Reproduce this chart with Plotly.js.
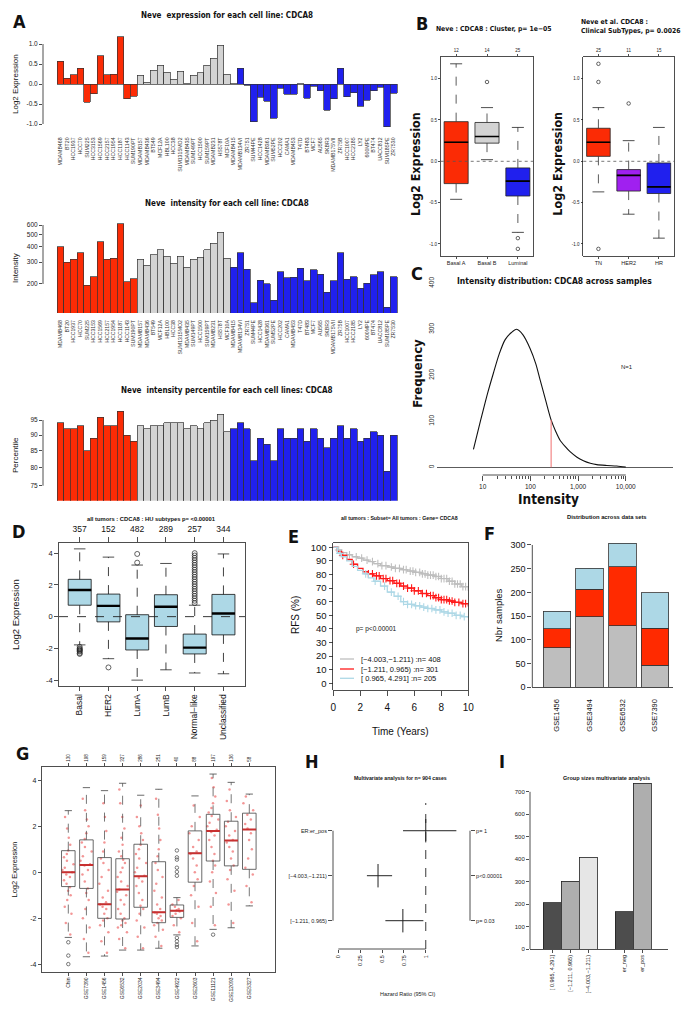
<!DOCTYPE html>
<html><head><meta charset="utf-8">
<script src="https://cdn.plot.ly/plotly-3.0.1.min.js"></script>
<style>html,body{margin:0;padding:0;background:#fff}#chart{width:692px;height:1019px}</style>
</head><body><div id="chart"></div>
<script>
// ================= DATA =================
// Panel A
const basalA = ['MDAMB468','BT20','HCC1937','HCC70','SUM225','HCC3153','HCC1569','HCC2157','HCC1954','HCC1187','HCC1143','SUM190PT'];
const basalB = ['MDAMB157','MDAMB436','BT549','MCF12A','HBL100','HCC38','SUM1315MO2','MDAMB435','SUM149PT','HCC1500','SUM159PT','MDAMB231','HS578T','MCF10A'];
const luminal = ['MDAMB415','MDAMB134VI','ZR751','SUM44PE','HCC1428','MDAMB361','SUM52PE','HCC202','CAMA1','MDAMB453','T47D','BT483','MCF7','AU565','SKBR3','MDAMB175VII','ZR75B','HCC1007','HCC2185','LY2','600MPE','BT474','UACC812','SUM185PE','ZR7530'];
const exprValues = [0.57,0.15,0.23,0.40,-0.46,-0.24,0.71,0.23,0.25,1.18,-0.37,-0.30,
  0.22,0.05,0.35,0.47,0.30,0.12,0.32,0.01,0.22,0.28,0.47,0.65,0.97,0.25,
  0.01,0.40,-0.03,-0.94,-0.33,-0.43,-0.86,-0.11,-0.26,-0.25,0.005,-0.35,-0.06,-0.17,-0.65,-0.37,0.40,-0.32,-0.22,-0.55,-0.40,-0.17,-0.08,-1.07,-0.23];
const intensityValues = [400,300,316,358,195,229,440,316,322,614,209,220,
  316,283,345,377,335,294,336,273,316,329,377,427,526,322,
  273,358,263,141,215,200,148,250,225,227,268,213,261,240,172,212,358,218,229,185,203,237,250,130,229];
const percentileValues = [94,92,92,93,85,89,96,93,93,98,90,88,
  93,92,93,93,94,94,94,92,93,92,94,95,97,91,
  92,94,92,82,89,87,82,92,89,89,92,88,92,89,86,89,93,89,92,88,89,91,90,79,90];

// Panel B
const clusterLabels = ['Basal A','Basal B','Luminal'];
const clusterCounts = ['12','14','25'];
const clusterQ1 = [-0.27,0.22,-0.42];
const clusterMed = [0.23,0.30,-0.24];
const clusterQ3 = [0.48,0.47,-0.08];
const clusterLo = [-0.46,0.02,-0.86];
const clusterHi = [1.18,0.65,0.41];
const clusterOut = [[],[0.96],[-0.93,-1.06]];
const clinLabels = ['TN','HER2','HR'];
const clinCounts = ['25','11','15'];
const clinQ1 = [0.06,-0.36,-0.39];
const clinMed = [0.23,-0.17,-0.31];
const clinQ3 = [0.40,-0.10,-0.02];
const clinLo = [-0.37,-0.64,-0.93];
const clinHi = [0.65,0.25,0.41];
const clinOut = [[1.18,0.96,-1.06],[0.70],[]];

// Panel C
const densIntensity = [6.4,8,10.3,13,16.7,22,29.4,40,51.6,70,98,130,160,210,272,340,419,540,679,950,1294,1800,2466,4000,6474,10000];
const densFreq = [39,80,125,165,204,245,277,293,300,288,259,225,190,145,103,78,59,45,34,22,14.5,9,5.8,4,2.9,0.7];
const sampleIntensity = 272;

// Panel D
const huLabels = ['Basal','HER2','LumA','LumB','Normal\u2212like','Unclassified'];
const huCounts = ['357','152','482','289','257','344'];
const huQ1 = [0.72,-0.33,-2.10,-0.62,-2.35,-1.15];
const huMed = [1.68,0.68,-1.38,0.62,-1.95,0.20];
const huQ3 = [2.35,1.42,0.12,1.38,-1.10,1.40];
const huLo = [-1.78,-2.65,-4.00,-3.35,-3.55,-3.60];
const huHi = [4.27,3.75,3.25,3.35,0.72,3.95];
const huOut = [[-1.9,-2.0,-2.05,-2.1,-2.15,-2.2,-2.3,-2.35],[-3.2],[3.4,3.95],[],
  [0.85,1.0,1.15,1.3,1.45,1.6,1.75,1.9,2.05,2.2,2.35,2.5,2.65,2.8,2.95,3.1,3.25,3.4,3.55,3.7,3.85,4.0],[]];

// Panel E (Kaplan-Meier)
const kmTimes = [0,0.3,0.6,1.0,1.4,1.8,2.2,2.6,3.0,3.5,4.0,4.5,5.0,5.5,6.0,6.5,7.0,7.5,8.0,8.5,9.0,9.5,10];
const kmLow  = [100,98,96,94.5,93,92,90.5,89.5,88,86.5,85.5,84.5,83.5,82.5,81.5,80.5,79.5,78.5,77,75,73,71,68];
const kmMid  = [100,97,94,91,87.5,84.5,82,80.5,79,77,75.5,73.5,71.5,70,68,66,64.5,63,61.5,60.5,59.5,58.5,56.5];
const kmHigh = [100,95.5,93,90,86,83,80.5,77.5,75,71.5,67,64,60,58,57,56,55,54,52.5,51.5,50,49,48];
const censLow  = [0.4,1.2,1.7,2.1,2.5,2.9,3.3,3.6,3.9,4.3,4.6,4.9,5.2,5.4,5.7,5.9,6.1,6.4,6.6,6.8,7.0,7.2,7.4,7.6,7.8,8.0,8.2,8.4,8.6,8.8,9.0,9.2,9.4,9.6,9.8];
const censMid  = [0.7,1.5,2.6,2.9,3.2,3.4,3.7,3.9,4.2,4.4,4.7,4.9,5.2,5.5,5.8,6.0,6.3,6.6,6.9,7.2,7.4,7.6,7.8,8.0,8.2,8.4,8.6,8.8,9.0,9.3,9.6,9.8];
const censHigh = [0.5,2.4,3.1,3.8,4.3,4.8,5.2,5.5,5.8,6.1,6.4,6.7,7.0,7.3,7.6,7.9,8.2,8.5,8.8,9.1,9.4,9.7];
const kmLegend = ['[\u22124.003,\u22121.211) :n= 408','[\u22121.211, 0.965) :n= 301','[ 0.965, 4.291] :n= 205'];

// Panel F
const fDatasets = ['GSE1456','GSE3494','GSE6532','GSE7390'];
const fLow = [83,149,130,46];
const fMid = [40,58,124,79];
const fHigh = [37,44,50,74];

// Panel G
const gLabels = ['Chin','GSE7390','GSE1456','GSE6532','GSE2034','GSE3494','GSE4922','GSE2603','GSE11121','GSE12093','GSE5327'];
const gCounts = ['130','198','159','327','286','251','40','88','197','136','58'];
const gQ1 = [-0.62,-0.70,-2.00,-2.03,-1.52,-2.19,-1.96,-0.43,0.49,0.28,0.13];
const gMed = [0.00,0.32,-1.39,-0.75,-0.17,-1.74,-1.67,0.83,1.80,1.38,1.86];
const gQ3 = [0.94,1.41,0.64,0.59,1.22,0.46,-1.42,1.80,2.52,2.22,2.57];
const gLo = [-2.83,-3.67,-3.64,-3.38,-3.38,-3.30,-2.72,-3.20,-2.48,-2.41,-1.46];
const gHi = [2.68,3.68,3.55,3.87,3.35,3.61,-1.10,3.32,4.27,3.91,3.40];
const gOut = [[-3.04,-3.62,-3.99],[],[],[],[],[],[0.95,0.65,0.55,0.2,0.02,-0.15,-2.85,-3.0,-3.15,-3.25],[],[-2.71],[],[]];
const gPoints = [
  [-2.7,-2.2,-1.8,-1.5,-1.2,-1.0,-0.8,-0.65,-0.5,-0.35,-0.2,-0.1,0.0,0.1,0.2,0.35,0.5,0.65,0.8,0.95,1.2,1.5,1.9,2.4],
  [-3.5,-2.9,-2.4,-2.0,-1.6,-1.2,-0.9,-0.7,-0.4,-0.1,0.1,0.3,0.35,0.5,0.7,0.9,1.1,1.3,1.45,1.7,2.0,2.3,2.7,3.2],
  [-3.5,-3.0,-2.6,-2.3,-2.1,-2.0,-1.8,-1.6,-1.5,-1.4,-1.3,-1.1,-0.8,-0.5,-0.2,0.1,0.4,0.6,0.9,1.3,1.8,2.4,3.0],
  [-3.3,-2.9,-2.6,-2.4,-2.3,-2.2,-2.1,-2.0,-1.8,-1.6,-1.4,-1.2,-1.0,-0.85,-0.75,-0.6,-0.4,-0.2,0.0,0.2,0.4,0.55,0.7,0.9,1.2,1.5,1.9,2.4,3.0,3.6],
  [-3.3,-2.8,-2.4,-2.1,-1.8,-1.6,-1.45,-1.2,-0.9,-0.6,-0.4,-0.25,-0.15,0.0,0.2,0.4,0.6,0.8,1.0,1.2,1.4,1.7,2.0,2.4,2.9],
  [-3.2,-2.8,-2.5,-2.3,-2.2,-2.1,-2.0,-1.9,-1.8,-1.75,-1.6,-1.4,-1.1,-0.8,-0.5,-0.2,0.1,0.4,0.7,1.0,1.4,1.9,2.5,3.2],
  [-2.6,-2.3,-2.0,-1.9,-1.8,-1.7,-1.65,-1.6,-1.5,-1.4,-1.2],
  [-3.0,-2.2,-1.5,-1.0,-0.6,-0.3,0.0,0.3,0.6,0.8,0.9,1.1,1.4,1.7,2.0,2.4,2.9],
  [-2.3,-1.5,-0.9,-0.4,0.0,0.3,0.5,0.8,1.1,1.4,1.6,1.75,1.85,2.0,2.15,2.3,2.45,2.6,2.8,3.0,3.3,3.7,4.1],
  [-2.2,-1.4,-0.8,-0.3,0.1,0.3,0.6,0.9,1.1,1.3,1.4,1.6,1.8,2.0,2.2,2.4,2.7,3.1,3.6],
  [-1.3,-0.6,-0.1,0.2,0.6,1.0,1.4,1.7,1.9,2.1,2.3,2.5,2.7,3.0,3.3]
];

// Panel H
const hrLabels = ['ER:er_pos','[\u22124.003,\u22121.211)','[\u22121.211, 0.965)'];
const hrEst = [1.0,0.454,0.738];
const hrLow = [0.74,0.327,0.538];
const hrHigh = [1.35,0.615,0.973];
const hrP = ['p= 1','p<0.00001','p= 0.03'];
const hrTicks = ['0','0.25','0.5','0.75','1'];

// Panel I
const iLabels = ['[ 0.965, 4.291]','[\u22121.211, 0.965)','[\u22124.003,\u22121.211)','er_neg','er_pos'];
const iCounts = [205,301,408,166,738];
const iGroup = [0,0,0,1,1];
const iColors = ['#4D4D4D','#AEAEAE','#E6E6E6','#4D4D4D','#AEAEAE'];

// ================= STYLE / HELPERS =================
const W = 692, H = 1019;
const F = "'Liberation Sans', Arial, sans-serif";
const N = "'Liberation Sans Narrow', 'DejaVu Sans Condensed', 'Liberation Sans', sans-serif";
const RED = '#FB2B05', BLUE = '#2020EE', LGREY = '#D3D3D3', PURPLE = '#A020F0', LBLUE = '#ADD8E6';
const xd = (a,b) => [a/W, b/W];
const yd = (t,b) => [1-b/H, 1-t/H];
const px = x => x/W, py = y => 1-y/H;

function ax(o){
  return Object.assign({showgrid:false, zeroline:false, showline:false, ticks:'', linecolor:'#222', linewidth:0.8,
    tickcolor:'#222', tickwidth:0.8, ticklen:3, tickfont:{family:F,size:6,color:'#222'}, fixedrange:true, automargin:false}, o);
}
const annotations = [];
function ann(text, x, y, o){
  annotations.push(Object.assign({text, x:px(x), y:py(y), xref:'paper', yref:'paper', showarrow:false,
    xanchor:'center', yanchor:'middle', font:{family:F,size:8,color:'#111'}}, o||{}));
}
const shapes = [];
function seg(o){ shapes.push(Object.assign({type:'line', line:{color:'#222', width:0.8}}, o)); }

const traces = [];
function holder(xa, ya){ traces.push({type:'scatter',mode:'markers',x:[],y:[],xaxis:xa,yaxis:ya,hoverinfo:'skip'}); }
function boxSet(xa, ya, st, o){
  const n = st.q1.length;
  const wx=[],wy=[],cx=[],cy=[],mx=[],my=[],ox=[],oy=[];
  const hw=o.width/2, cw=o.cap/2;
  for(let i=0;i<n;i++){
    wx.push(i,i,null,i,i,null); wy.push(st.q3[i],st.hi[i],null,st.q1[i],st.lo[i],null);
    cx.push(i-cw,i+cw,null,i-cw,i+cw,null); cy.push(st.hi[i],st.hi[i],null,st.lo[i],st.lo[i],null);
    mx.push(i-hw,i+hw,null); my.push(st.med[i],st.med[i],null);
    (st.out[i]||[]).forEach(v=>{ox.push(i);oy.push(v);});
  }
  traces.push({type:'scatter',mode:'lines',x:wx,y:wy,xaxis:xa,yaxis:ya,hoverinfo:'skip',
    line:{color:o.wcolor||'#222',width:0.8,dash:o.wdash||'dash'}});
  traces.push({type:'scatter',mode:'lines',x:cx,y:cy,xaxis:xa,yaxis:ya,hoverinfo:'skip',
    line:{color:o.ccolor||'#222',width:0.8}});
  for(let i=0;i<n;i++){
    traces.push({type:'box',x:[i],q1:[st.q1[i]],median:[st.med[i]],q3:[st.q3[i]],
      lowerfence:[st.q1[i]],upperfence:[st.q3[i]],width:o.width,whiskerwidth:0,boxpoints:false,
      fillcolor:Array.isArray(o.fill)?o.fill[i]:o.fill,line:{color:o.lcolor||'#222',width:0.8},
      xaxis:xa,yaxis:ya,hoverinfo:'skip'});
  }
  traces.push({type:'scatter',mode:'lines',x:mx,y:my,xaxis:xa,yaxis:ya,hoverinfo:'skip',
    line:{color:o.mcolor||'#000',width:o.mwidth||2.2}});
  traces.push({type:'scatter',mode:'markers',x:ox,y:oy,xaxis:xa,yaxis:ya,hoverinfo:'skip',
    marker:{symbol:'circle-open',size:o.osize||4,color:o.ocolor||'#222',line:{width:0.7}}});
}

// ================= PANEL A =================
const cellLines = basalA.concat(basalB, luminal);
const cellColors = cellLines.map(c => basalA.includes(c) ? RED : (basalB.includes(c) ? LGREY : BLUE));
const barLine = {color:'#333', width:0.7};
traces.push({type:'bar',x:cellLines,y:exprValues,width:1,marker:{color:cellColors,line:barLine},xaxis:'x',yaxis:'y',hoverinfo:'skip'});
traces.push({type:'bar',x:cellLines,y:intensityValues,width:1,marker:{color:cellColors,line:barLine},xaxis:'x2',yaxis:'y2',hoverinfo:'skip'});
traces.push({type:'bar',x:cellLines,y:percentileValues,width:1,marker:{color:cellColors,line:barLine},xaxis:'x3',yaxis:'y3',hoverinfo:'skip'});

// ================= PANEL B =================
boxSet('x4','y4',{q1:clusterQ1,med:clusterMed,q3:clusterQ3,lo:clusterLo,hi:clusterHi,out:clusterOut},
  {width:0.78,cap:0.39,fill:[RED,LGREY,BLUE],osize:3.5,mwidth:1.6,wcolor:'#333'});
boxSet('x5','y5',{q1:clinQ1,med:clinMed,q3:clinQ3,lo:clinLo,hi:clinHi,out:clinOut},
  {width:0.78,cap:0.39,fill:[RED,PURPLE,BLUE],osize:3.5,mwidth:1.6,wcolor:'#333'});
holder('x13','y4'); holder('x14','y5');

// ================= PANEL C =================
function interpLog(x, X, Y){
  const lx=Math.log10(x);
  for(let k=0;k<X.length-1;k++){
    const a=Math.log10(X[k]), b=Math.log10(X[k+1]);
    if(lx>=a && lx<=b) return Y[k]+(Y[k+1]-Y[k])*(lx-a)/(b-a);
  }
  return 0;
}
traces.push({type:'scatter',mode:'lines',x:densIntensity,y:densFreq,xaxis:'x6',yaxis:'y6',hoverinfo:'skip',
  line:{color:'#111',width:1.1,shape:'spline',smoothing:0.8}});
traces.push({type:'scatter',mode:'lines',x:[sampleIntensity,sampleIntensity],y:[0,interpLog(sampleIntensity,densIntensity,densFreq)],
  xaxis:'x6',yaxis:'y6',hoverinfo:'skip',line:{color:'#F07070',width:1}});

// ================= PANEL D =================
boxSet('x7','y7',{q1:huQ1,med:huMed,q3:huQ3,lo:huLo,hi:huHi,out:huOut},
  {width:0.8,cap:0.4,fill:LBLUE,osize:5,mwidth:2.4,lcolor:'#111',wcolor:'#111'});
holder('x15','y7');

// ================= PANEL E =================
function stepAt(t,T,S){let v=S[0];for(let k=0;k<T.length;k++){if(T[k]<=t)v=S[k];}return v;}
const kmSets = [[kmLow,censLow,'#BEBEBE'],[kmMid,censMid,'#FF1A1A'],[kmHigh,censHigh,LBLUE]];
kmSets.forEach(([S,C,col])=>{
  traces.push({type:'scatter',mode:'lines',x:kmTimes,y:S,xaxis:'x8',yaxis:'y8',hoverinfo:'skip',line:{color:col,width:1.3,shape:'hv'}});
  traces.push({type:'scatter',mode:'markers',x:C,y:C.map(t=>stepAt(t,kmTimes,S)),xaxis:'x8',yaxis:'y8',hoverinfo:'skip',
    marker:{symbol:'cross-thin-open',size:5.5,color:col,line:{color:col,width:1.1}}});
});

// ================= PANEL F =================
[[fLow,'#BEBEBE'],[fMid,'#FF2A00'],[fHigh,LBLUE]].forEach(([v,col])=>{
  traces.push({type:'bar',x:fDatasets,y:v,width:0.84,xaxis:'x9',yaxis:'y9',hoverinfo:'skip',marker:{color:col,line:{color:'#333',width:0.8}}});
});

// ================= PANEL G =================
gPoints.forEach((pts,i)=>{
  traces.push({type:'box',y:pts,x0:i,width:0.75,boxpoints:'all',jitter:0.9,pointpos:0,xaxis:'x10',yaxis:'y10',hoverinfo:'skip',
    fillcolor:'rgba(0,0,0,0)',line:{color:'rgba(0,0,0,0)',width:0},marker:{size:2.5,color:'rgba(235,80,80,0.6)'}});
});
boxSet('x10','y10',{q1:gQ1,med:gMed,q3:gQ3,lo:gLo,hi:gHi,out:gOut},
  {width:0.75,cap:0.4,fill:'rgba(0,0,0,0)',osize:3.5,mwidth:2,mcolor:'#C83030',lcolor:'#444',wcolor:'#555',ccolor:'#444',ocolor:'#444'});
holder('x16','y10');

// ================= PANEL H =================
const hrRows = hrLabels.map((_,i)=>hrLabels.length-i);
traces.push({type:'scatter',mode:'markers',x:hrEst,y:hrRows,xaxis:'x11',yaxis:'y11',hoverinfo:'skip',
  marker:{size:1,color:'rgba(0,0,0,0)'},
  error_x:{type:'data',symmetric:false,array:hrEst.map((v,i)=>hrHigh[i]-v),arrayminus:hrEst.map((v,i)=>v-hrLow[i]),width:0,thickness:1,color:'#222'},
  error_y:{type:'constant',value:0.26,width:0,thickness:1,color:'#222'}});
holder('x11','y17');

// ================= PANEL I =================
const iPos = iLabels.map((_,i)=>i+iGroup[i]);
traces.push({type:'bar',x:iPos,y:iCounts,width:1,xaxis:'x12',yaxis:'y12',hoverinfo:'skip',marker:{color:iColors,line:{color:'#222',width:0.8}}});

// ================= LAYOUT =================
const aX = {range:[-2.6,52.6],tickmode:'linear',tick0:0,dtick:1,tickangle:-90,ticks:'outside',ticklen:4,tickcolor:'rgba(0,0,0,0)',
  tickfont:{family:F,size:5.2,color:'#333'},type:'category'};
const layout = {
  width:W, height:H, margin:{l:0,r:0,t:0,b:0}, paper_bgcolor:'#fff', plot_bgcolor:'rgba(0,0,0,0)',
  showlegend:false, barmode:'stack', font:{family:F,color:'#222'},
  xaxis: ax(Object.assign({domain:xd(43,411),anchor:'y'},aX)),
  yaxis: ax({domain:yd(33.2,130.4),anchor:'x',range:[-1.16,1.27],tickvals:[-1,-0.5,0,0.5,1],ticktext:['-1.0','-0.5','0.0','0.5','1.0'],ticks:'outside',ticklen:3,tickfont:{family:F,size:6.5,color:'#222'}}),
  xaxis2: ax(Object.assign({domain:xd(43,411),anchor:'y2'},aX)),
  yaxis2: ax({domain:yd(222.3,313),anchor:'x2',type:'log',range:[2.066,2.80],tickvals:[200,300,400,500,600],ticktext:['200','300','400','500','600'],ticks:'outside',ticklen:3,tickfont:{family:F,size:6.5,color:'#222'}}),
  xaxis3: ax(Object.assign({domain:xd(43,411),anchor:'y3'},aX,{showticklabels:false})),
  yaxis3: ax({domain:yd(400,500.7),anchor:'x3',type:'log',range:[1.8516,2.009],tickvals:[75,80,85,90,95],ticktext:['75','80','85','90','95'],ticks:'outside',ticklen:3,tickfont:{family:F,size:6.5,color:'#222'}}),

  xaxis4: ax({domain:xd(440.7,533.3),anchor:'y4',range:[-0.5,2.5],tickvals:[0,1,2],ticktext:clusterLabels,ticks:'outside',ticklen:2,showline:true,mirror:true,tickfont:{family:F,size:5.5,color:'#222'}}),
  yaxis4: ax({domain:yd(56.7,256),anchor:'x4',range:[-1.146,1.266],tickvals:[-1,-0.5,0,0.5,1],ticktext:['-1.0','-0.5','0.0','0.5','1.0'],ticks:'outside',ticklen:2,showline:true,mirror:true,tickfont:{family:F,size:4.5,color:'#222'}}),
  xaxis13: ax({overlaying:'x4',anchor:'y4',side:'top',range:[-0.5,2.5],tickvals:[0,1,2],ticktext:clusterCounts,ticks:'outside',ticklen:2,tickfont:{family:F,size:4.5,color:'#222'}}),
  xaxis5: ax({domain:xd(583.3,674),anchor:'y5',range:[-0.5,2.5],tickvals:[0,1,2],ticktext:clinLabels,ticks:'outside',ticklen:2,showline:true,mirror:true,tickfont:{family:F,size:5.5,color:'#222'}}),
  yaxis5: ax({domain:yd(56.7,256),anchor:'x5',range:[-1.146,1.266],tickvals:[-1,-0.5,0,0.5,1],ticktext:['-1.0','-0.5','0.0','0.5','1.0'],ticks:'outside',ticklen:2,showline:true,mirror:true,tickfont:{family:F,size:4.5,color:'#222'}}),
  xaxis14: ax({overlaying:'x5',anchor:'y5',side:'top',range:[-0.5,2.5],tickvals:[0,1,2],ticktext:clinCounts,ticks:'outside',ticklen:2,tickfont:{family:F,size:4.5,color:'#222'}}),

  xaxis6: ax({domain:xd(436.7,673),anchor:'y6',type:'log',range:[0.036,4.99],tickvals:[10,100,1000,10000],ticktext:['10','100','1,000','10,000'],
    ticks:'outside',ticklen:5,tickfont:{family:F,size:6.5,color:'#222'},
    minor:{tickmode:'array',tickvals:[2,3,4,5,6,7,8,9].flatMap(m=>[10,100,1000].map(d=>m*d)),ticks:'outside',ticklen:3,tickcolor:'#222',tickwidth:0.8}}),
  yaxis6: ax({domain:yd(283,475),anchor:'x6',range:[-16.7,400.7],tickvals:[0,100,200,300,400],tickangle:-90,tickfont:{family:F,size:6.5,color:'#222'},
    zeroline:true,zerolinecolor:'#333',zerolinewidth:0.8}),

  xaxis7: ax({domain:xd(59,245),anchor:'y7',range:[-0.72,5.75],tickvals:[0,1,2,3,4,5],ticktext:huLabels,tickangle:-90,ticks:'outside',ticklen:4,showline:true,mirror:true,tickfont:{family:F,size:8.5,color:'#111'}}),
  yaxis7: ax({domain:yd(543.3,686),anchor:'x7',range:[-4.37,4.62],tickvals:[-4,-2,0,2,4],ticktext:['-4','-2','0','2','4'],ticks:'outside',ticklen:4,showline:true,mirror:true,tickfont:{family:F,size:7.5,color:'#111'}}),
  xaxis15: ax({overlaying:'x7',anchor:'y7',side:'top',range:[-0.72,5.75],tickvals:[0,1,2,3,4,5],ticktext:huCounts,ticks:'outside',ticklen:5,ticklabelstandoff:2,tickfont:{family:F,size:8.5,color:'#111'}}),

  xaxis8: ax({domain:xd(333.3,468.3),anchor:'y8',range:[0,10],tickvals:[0,2,4,6,8,10],ticks:'outside',ticklen:5,ticklabelstandoff:3,showline:true,mirror:true,tickfont:{family:F,size:10,color:'#111'}}),
  yaxis8: ax({domain:yd(543.3,690),anchor:'x8',range:[-4.9,102.9],tickvals:[0,10,20,30,40,50,60,70,80,90,100],ticks:'outside',ticklen:4,showline:true,mirror:true,tickfont:{family:F,size:9.5,color:'#111'}}),

  xaxis9: ax({domain:xd(532.3,673),anchor:'y9',type:'category',range:[-0.755,3.55],tickangle:-90,ticks:'outside',ticklen:8,tickcolor:'rgba(0,0,0,0)',showline:true,tickfont:{family:F,size:7.5,color:'#111'}}),
  yaxis9: ax({domain:yd(539.3,687.3),anchor:'x9',range:[0,312],tickvals:[0,50,100,150,200,250,300],ticks:'outside',ticklen:4,tickfont:{family:F,size:9,color:'#111'}}),

  xaxis10: ax({domain:xd(41.7,275),anchor:'y10',range:[-1.47,11.42],tickvals:gLabels.map((_,i)=>i),ticktext:gLabels,tickangle:-90,ticks:'outside',ticklen:3,showline:true,mirror:true,tickfont:{family:F,size:5,color:'#222'}}),
  yaxis10: ax({domain:yd(766.7,971.7),anchor:'x10',range:[-4.32,4.59],tickvals:[-4,-2,0,2,4],ticktext:['-4','-2','0','2','4'],ticks:'outside',ticklen:3,showline:true,mirror:true,tickfont:{family:F,size:7,color:'#222'}}),
  xaxis16: ax({overlaying:'x10',anchor:'y10',side:'top',range:[-1.47,11.42],tickvals:gLabels.map((_,i)=>i),ticktext:gCounts,tickangle:-90,ticks:'outside',ticklen:3,tickfont:{family:F,size:4.5,color:'#222'}}),

  xaxis11: ax({domain:xd(333,470),anchor:'y11',range:[-0.061,1.506],tickvals:[0,0.25,0.5,0.75,1],ticktext:hrTicks,tickangle:-90,ticks:'outside',ticklen:3,tickfont:{family:F,size:5.5,color:'#222'}}),
  yaxis11: ax({domain:yd(803,949),anchor:'x11',range:[0.371,3.616],tickvals:hrRows,ticktext:hrLabels,ticks:'outside',ticklen:4,tickfont:{family:F,size:5.5,color:'#222'}}),
  yaxis17: ax({overlaying:'y11',anchor:'x11',side:'right',range:[0.371,3.616],tickvals:hrRows,ticktext:hrP,ticks:'outside',ticklen:4,tickfont:{family:F,size:5.5,color:'#222'}}),

  xaxis12: ax({domain:xd(530,668),anchor:'y12',range:[-1.25,6.43],tickvals:iPos,ticktext:iLabels,tickangle:-90,ticks:'outside',ticklen:3,showline:true,tickfont:{family:F,size:5.5,color:'#222'}}),
  yaxis12: ax({domain:yd(775,949),anchor:'x12',range:[0,775],tickvals:[0,100,200,300,400,500,600,700],ticks:'outside',ticklen:3,tickfont:{family:F,size:6,color:'#222'}}),
  shapes, annotations
};

// R-style partial axis lines & reference lines
seg({xref:'x domain',yref:'y',x0:0,x1:0,y0:-1,y1:1});
seg({xref:'x2 domain',yref:'y2',x0:0,x1:0,y0:200,y1:600});
seg({xref:'x3 domain',yref:'y3',x0:0,x1:0,y0:75,y1:95});
seg({xref:'x4 domain',yref:'y4',x0:0,x1:1,y0:0,y1:0,line:{color:'#555',width:0.8,dash:'dot'}});
seg({xref:'x5 domain',yref:'y5',x0:0,x1:1,y0:0,y1:0,line:{color:'#555',width:0.8,dash:'dot'}});
seg({xref:'x6',yref:'y6 domain',x0:10,x1:10000,y0:0,y1:0});
seg({xref:'x7 domain',yref:'y7',x0:0,x1:1,y0:0,y1:0,line:{color:'#222',width:0.9,dash:'dash'}});
seg({xref:'x9 domain',yref:'y9',x0:0,x1:0,y0:0,y1:300});
seg({xref:'x11 domain',yref:'y11',x0:0,x1:0,y0:1,y1:3});
seg({xref:'x11 domain',yref:'y11',x0:1,x1:1,y0:1,y1:3});
seg({xref:'x11',yref:'y11 domain',x0:0,x1:1,y0:0,y1:0});
seg({xref:'x11',yref:'y11 domain',x0:1,x1:1,y0:0,y1:1,line:{color:'#222',width:0.9,dash:'dash'}});
seg({xref:'x12 domain',yref:'y12',x0:0,x1:0,y0:0,y1:700});
// KM legend keys
[['#BEBEBE',659],['#FF1A1A',669],[LBLUE,678.3]].forEach(([c,y])=>{
  seg({xref:'paper',yref:'paper',x0:px(340),x1:px(354),y0:py(y),y1:py(y),line:{color:c,width:1.3}});
});

// Titles
const tb = (t,x,y,size,fam) => ann('<b>'+t+'</b>',x,y,{font:{family:fam||N,size,color:'#111'}});
tb('Neve  expression for each cell line: CDCA8',227,15,8);
tb('Neve  intensity for each cell line: CDCA8',227,203.3,8);
tb('Neve  intensity percentile for each cell lines: CDCA8',227,390,8);
ann('<b>Neve : CDCA8 : Cluster, p= 1e\u221205</b>',434,29.3,{xanchor:'left',font:{family:N,size:6.8,color:'#111'}});
ann('<b>Neve et al. CDCA8 :</b><br><b>Clinical SubTypes, p= 0.0026</b>',579,27,{xanchor:'left',align:'left',font:{family:N,size:6.8,color:'#111'}});
tb('Intensity distribution: CDCA8 across samples',554,281,8.5);
tb('all tumors : CDCA8 : HU subtypes p= &lt;0.00001',151.7,519,5.8,F);
tb('all tumors : Subset= All tumors : Gene= CDCA8',399,518,5.2,F);
tb('Distribution across data sets',606.7,516.7,5.8,F);
tb('Multivariate analysis for n= 904 cases',400.7,777.7,5.2,F);
tb('Group sizes multivariate analysis',606,777.7,5.5,F);

// Axis titles
const rot = (t,x,y,size,fam,bold) => ann(bold?'<b>'+t+'</b>':t,x,y,{textangle:-90,font:{family:fam||F,size,color:'#111'}});
rot('Log2 Expression',15,84,8);
rot('Intensity',15,268,8);
rot('Percentile',15,455,8);
rot('Log2 Expression',415,164,12.5,N,true);
rot('Log2 Expression',556.7,164,12.5,N,true);
rot('Frequency',416.7,373,13,N,true);
ann('<b>Intensity</b>',548,499,{font:{family:N,size:13.5,color:'#111'}});
ann('N=1',627,366.7,{font:{family:F,size:6,color:'#222'}});
rot('Log2 Expression',15,615,9.5);
rot('RFS (%)',295,615,10);
ann('Time (Years)',400.7,731.7,{font:{family:F,size:10,color:'#111'}});
ann('p= p&lt;0.00001',354,629.3,{xanchor:'left',font:{family:F,size:6.5,color:'#111'}});
kmLegend.forEach((t,i)=>ann(t,359.3,[659,669,678.3][i],{xanchor:'left',font:{family:F,size:7.5,color:'#111'}}));
rot('Nbr samples',498,615,9.5);
rot('Log2 Expression',13.5,870,7.5);
ann('Hazard Ratio (95% CI)',407.3,994,{font:{family:F,size:5.5,color:'#222'}});

// Panel letters
[['A',19,21.5],['B',421.5,23.5],['C',417,273],['D',18,531.5],['E',293,536.5],['F',489,533.5],['G',22.5,753.5],['H',311.5,761.5],['I',501.5,761.5]]
  .forEach(([t,x,y])=>ann('<b>'+t+'</b>',x,y,{font:{family:N,size:18,color:'#111'}}));

Plotly.newPlot('chart', traces, layout, {staticPlot:true, displayModeBar:false});
</script>
</body></html>
